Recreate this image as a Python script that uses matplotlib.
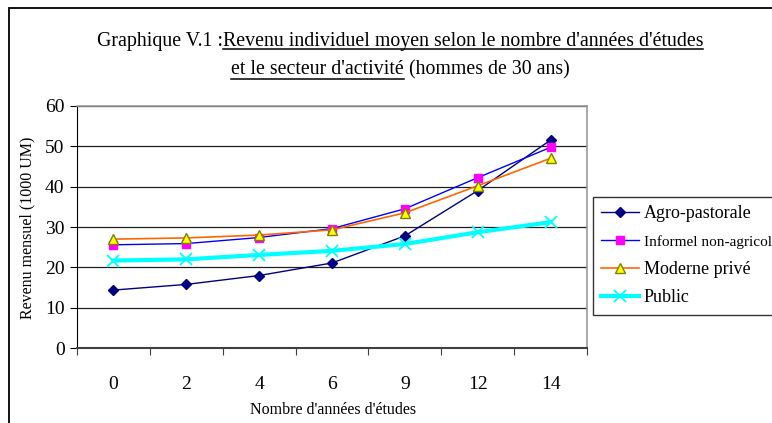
import matplotlib
matplotlib.use("Agg")
import matplotlib.pyplot as plt
import numpy as np
from matplotlib.transforms import IdentityTransform
from matplotlib.lines import Line2D
from matplotlib.patches import Rectangle

plt.rcParams['font.family'] = ['Liberation Serif', 'DejaVu Serif']

# ---- data ----
years_labels = ["0", "2", "4", "6", "9", "12", "14"]
agro = [14.4, 15.8, 18.0, 21.1, 27.8, 39.0, 51.5]
informel = [25.6, 25.9, 27.4, 29.6, 34.5, 42.2, 49.7]
moderne = [27.0, 27.3, 28.0, 29.3, 33.5, 40.2, 47.0]
public = [21.7, 22.0, 23.1, 24.1, 25.8, 28.7, 31.2]
series_names = ["Agro-pastorale", "Informel non-agricole", "Moderne privé", "Public"]

W, H = 772, 423
fig = plt.figure(figsize=(W / 100, H / 100), dpi=100)
fig.patch.set_facecolor('white')

# outer chart frame (extends beyond the image to the right and bottom)
fig.patches.append(Rectangle((9 / W, -1), 5, 1 + (1 - 8 / H), fill=False,
                             edgecolor='black', linewidth=1.3,
                             transform=fig.transFigure, figure=fig))

left, right = 77 / W, 587 / W
bottom, top = 1 - 348.3 / H, 1 - 105.7 / H
ax = fig.add_axes([left, bottom, right - left, top - bottom])

x = np.arange(len(years_labels))
ax.plot(x, agro, color='#000080', lw=1.0, marker='D', ms=5,
        mfc='#000080', mec='#000080', label=series_names[0])
ax.plot(x, informel, color='#0000FF', lw=1.0, marker='s', ms=6,
        mfc='#FF00FF', mec='#FF00FF', label=series_names[1])
ax.plot(x, moderne, color='#FF6600', lw=1.2, marker='^', ms=7,
        mfc='#FFFF00', mec='#808000', mew=1.0, label=series_names[2])
ax.plot(x, public, color='#00FFFF', lw=3, marker='x', ms=9, mew=1.3,
        mfc='#00FFFF', mec='#00FFFF', label=series_names[3])

ax.set_xlim(-0.5, len(years_labels) - 0.5)
ax.set_ylim(0, 60)
ax.set_yticks(np.arange(0, 61, 10))
ax.set_xticks(np.arange(-0.5, len(years_labels), 1))
ax.set_xticklabels([])
ax.set_xticks(x, minor=True)
ax.set_xticklabels(years_labels, minor=True)
ax.tick_params(axis='x', which='major', length=5, direction='out', color='#404040')
ax.tick_params(axis='x', which='minor', length=0, pad=20, labelsize=14)
ax.tick_params(axis='y', length=5, direction='out', pad=4, labelsize=14)
ax.yaxis.grid(True, color='#202020', lw=0.9)
ax.set_axisbelow(True)
for s in ['top', 'right']:
    ax.spines[s].set_color('#999999')
    ax.spines[s].set_linewidth(1.2)
ax.spines['left'].set_color('black')
ax.spines['bottom'].set_color('#404040')
ax.spines['bottom'].set_linewidth(1.5)

# axis labels
fig.text(333 / W, 1 - 410 / H, "Nombre d'années d'études", ha='center',
         va='center', fontsize=11.5)
fig.text(27 / W, 1 - 228 / H, "Revenu mensuel (1000 UM)", ha='center',
         va='center', rotation=90, fontsize=11.5)

# legend
leg = ax.legend(loc='upper left', bbox_to_anchor=(593 / W, 1 - 197 / H),
                bbox_transform=fig.transFigure, borderaxespad=0,
                fancybox=False, frameon=True, fontsize=13,
                handlelength=2.1, handletextpad=0.25, labelspacing=0.64,
                borderpad=0.45)
leg.get_frame().set_edgecolor('black')
leg.get_frame().set_linewidth(1.0)
leg.get_texts()[1].set_fontsize(11)

# title with underlined parts
renderer = fig.canvas.get_renderer()
title_fs = 14.3


def title_line(parts, baseline_px, underline_px, center_px=400):
    texts = []
    widths = []
    for s, _ in parts:
        t = fig.text(0, 0, s, transform=IdentityTransform(), fontsize=title_fs,
                     va='baseline', ha='left')
        texts.append(t)
        widths.append(t.get_window_extent(renderer).width)
    xpos = center_px - sum(widths) / 2
    for (s, ul), t, w in zip(parts, texts, widths):
        t.set_position((xpos, H - baseline_px))
        if ul:
            fig.lines.append(Line2D([xpos, xpos + w],
                                    [H - underline_px, H - underline_px],
                                    transform=IdentityTransform(),
                                    color='black', lw=1.1, figure=fig))
        xpos += w


title_line([("Graphique V.1 :", False),
            ("Revenu individuel moyen selon le nombre d'années d'études", True)],
           45.5, 49)
title_line([("et le secteur d'activité", True), (" (hommes de 30 ans)", False)],
           74, 78.5)

fig.savefig("out.png", dpi=100)
